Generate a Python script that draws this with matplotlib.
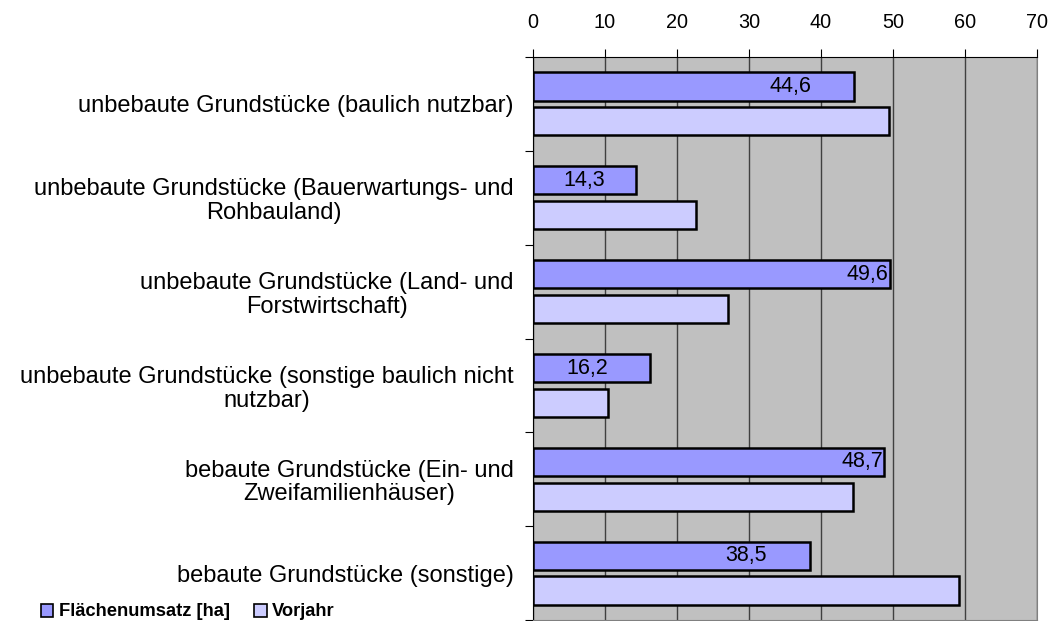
import matplotlib.pyplot as plt
import numpy as np
from matplotlib.patches import Patch

plt.rcParams['font.family'] = ['Liberation Sans', 'DejaVu Sans']

categories = ["unbebaute Grundstücke (baulich nutzbar)",
              "unbebaute Grundstücke (Bauerwartungs- und\nRohbauland)",
              "unbebaute Grundstücke (Land- und\nForstwirtschaft)",
              "unbebaute Grundstücke (sonstige baulich nicht\nnutzbar)",
              "bebaute Grundstücke (Ein- und\nZweifamilienhäuser)",
              "bebaute Grundstücke (sonstige)"]
flaeche = [44.6, 14.3, 49.6, 16.2, 48.7, 38.5]
vorjahr = [49.5, 22.6, 27.1, 10.4, 44.5, 59.2]
value_labels = ["44,6", "14,3", "49,6", "16,2", "48,7", "38,5"]
# where the labels sit, relative to the bar end (data units)
label_shift = [-8.8, -7.2, -3.2, -8.6, -3.0, -8.9]

fig = plt.figure(figsize=(10.5, 6.21), dpi=100)
ax = fig.add_axes([533/1050, 1 - 620/621, 504/1050, 563/621])
ax.set_facecolor('#C0C0C0')

y = np.arange(len(categories))
h = 0.30
off = 0.185
ax.barh(y - off, flaeche, height=h, color='#9999FF', edgecolor='black', linewidth=1.8, zorder=3)
ax.barh(y + off, vorjahr, height=h, color='#CCCCFF', edgecolor='black', linewidth=1.8, zorder=3)

for i, v in enumerate(flaeche):
    ax.text(v + label_shift[i], y[i] - off, value_labels[i], ha='center', va='center',
            fontsize=15.5, zorder=4)

ax.set_xlim(0, 70)
ax.set_ylim(len(categories) - 0.5, -0.5)
ax.xaxis.tick_top()
ax.set_xticks(range(0, 71, 10))
ax.tick_params(axis='x', direction='out', length=6, labelsize=14.3, pad=12)
ax.grid(axis='x', color='#404040', linewidth=1, zorder=1)

ax.set_yticks(np.arange(len(categories) + 1) - 0.5)
ax.set_yticklabels([])
ax.set_yticks(y, minor=True)
ax.set_yticklabels(categories, minor=True, fontsize=17, multialignment='center',
                   linespacing=1.1)
ax.tick_params(axis='y', which='major', direction='out', length=6)
ax.tick_params(axis='y', which='minor', length=0, pad=14)

for s in ['right', 'bottom']:
    ax.spines[s].set_color('#808080')
ax.spines['left'].set_color('black')
ax.spines['top'].set_color('black')

handles = [Patch(facecolor='#9999FF', edgecolor='black', linewidth=1.2),
           Patch(facecolor='#CCCCFF', edgecolor='black', linewidth=1.2)]
fig.legend(handles, ["Flächenumsatz [ha]", "Vorjahr"], loc='center left',
           bbox_to_anchor=(0.03, 1 - 612/621), ncol=2, frameon=False,
           prop={'weight': 'bold', 'size': 13.2}, handlelength=0.7, handleheight=0.7,
           handletextpad=0.3, borderpad=0, columnspacing=1.3)

fig.savefig('out.png', dpi=100)
